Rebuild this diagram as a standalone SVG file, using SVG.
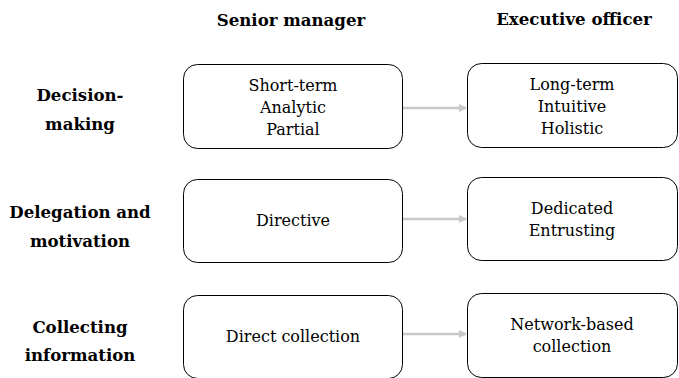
<svg xmlns="http://www.w3.org/2000/svg" width="679" height="378" viewBox="0 0 679 378">
<defs>
<style>
.box{fill:#fff;stroke:#000;stroke-width:1;}
.t{font-size:16px;text-anchor:middle;fill:#000;}
.h{font-size:16.6px;font-weight:bold;text-anchor:middle;fill:#000;}
.c{stroke:#c8c8c8;stroke-width:2.5;fill:none;}
</style>
<marker id="ah" markerWidth="8" markerHeight="8" refX="7" refY="4" orient="auto" markerUnits="userSpaceOnUse">
<path d="M0,0 L8,4 L0,8 Z" fill="#c8c8c8"/>
</marker>
</defs>
<rect width="679" height="378" fill="#fff"/>
<g font-family="DejaVu Serif, Liberation Serif, serif">
<g id="headers">
<text class="h" x="291" y="26">Senior manager</text>
<text class="h" x="574" y="25">Executive officer</text>
</g>
<g id="row-labels">
<text class="h" x="80" y="101">Decision-</text>
<text class="h" x="80" y="130">making</text>
<text class="h" x="80" y="218">Delegation and</text>
<text class="h" x="80" y="247">motivation</text>
<text class="h" x="80" y="333">Collecting</text>
<text class="h" x="80" y="361">information</text>
</g>
<g id="sm1">
<rect class="box" x="183.5" y="64.5" width="219" height="84" rx="14"/>
<text class="t" x="293" y="91">Short-term</text>
<text class="t" x="293" y="113">Analytic</text>
<text class="t" x="293" y="135">Partial</text>
</g>
<g id="eo1">
<rect class="box" x="467.5" y="63.5" width="210" height="84" rx="14"/>
<text class="t" x="572" y="90">Long-term</text>
<text class="t" x="572" y="112">Intuitive</text>
<text class="t" x="572" y="134">Holistic</text>
</g>
<g id="sm2">
<rect class="box" x="183.5" y="179.5" width="219" height="83" rx="14"/>
<text class="t" x="293" y="226">Directive</text>
</g>
<g id="eo2">
<rect class="box" x="467.5" y="177.5" width="210" height="83" rx="14"/>
<text class="t" x="572" y="214">Dedicated</text>
<text class="t" x="572" y="236">Entrusting</text>
</g>
<g id="sm3">
<rect class="box" x="183.5" y="295.5" width="219" height="83" rx="14"/>
<text class="t" x="293" y="342">Direct collection</text>
</g>
<g id="eo3">
<rect class="box" x="467.5" y="293.5" width="210" height="84" rx="14"/>
<text class="t" x="572" y="330">Network-based</text>
<text class="t" x="572" y="352">collection</text>
</g>
</g>
<g id="connectors">
<line class="c" x1="403" y1="108" x2="466" y2="108" marker-end="url(#ah)"/>
<line class="c" x1="403" y1="219" x2="466" y2="219" marker-end="url(#ah)"/>
<line class="c" x1="403" y1="334" x2="466" y2="334" marker-end="url(#ah)"/>
</g>
</svg>
